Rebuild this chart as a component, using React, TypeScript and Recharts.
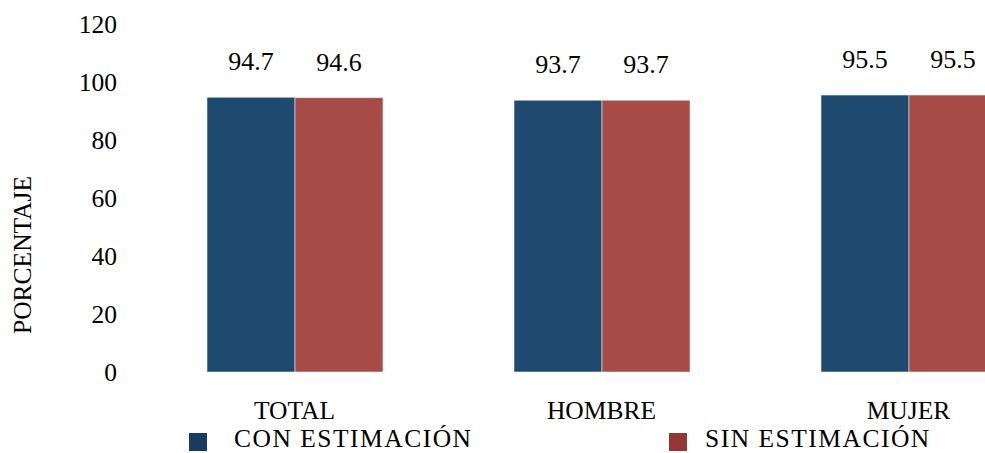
import { BarChart, Bar, XAxis, YAxis, LabelList, Legend, Label } from "recharts";

const categories = ["TOTAL", "HOMBRE", "MUJER"];
const conEstimacion = [94.7, 93.7, 95.5];
const sinEstimacion = [94.6, 93.7, 95.5];
const yTicks = [0, 20, 40, 60, 80, 100, 120];
const seriesNames = ["CON ESTIMACIÓN", "SIN ESTIMACIÓN"];

const FONT = "'Liberation Serif', 'Times New Roman', serif";
const txt = { fontFamily: FONT, fontSize: 25.5, fill: "#000" };

const data = categories.map((name, i) => ({
  name,
  con: conEstimacion[i],
  sin: sinEstimacion[i],
}));

const legendColors = ["#1b3a60", "#943634"];
const legendPos = [
  { box: 189, text: 234 },
  { box: 669, text: 705 },
];

function YTick(props: any) {
  const { y, payload } = props;
  return (
    <text x={117} y={y} dy={9} textAnchor="end" style={txt}>
      {payload.value}
    </text>
  );
}

function XTick(props: any) {
  const { x, payload } = props;
  return (
    <text x={x} y={419} textAnchor="middle" style={txt}>
      {payload.value}
    </text>
  );
}

function ValueLabel(props: any) {
  const { x, y, width, value } = props;
  return (
    <text x={x + width / 2} y={y - 27} textAnchor="middle" style={{ ...txt, fontSize: 26 }}>
      {value}
    </text>
  );
}

function LegendContent() {
  return (
    <div style={{ position: "relative", width: 985, height: 453 }}>
      {seriesNames.map((s, i) => (
        <div key={s}>
          <span
            style={{
              position: "absolute",
              left: legendPos[i].box,
              top: 433,
              width: 18,
              height: 18,
              background: legendColors[i],
            }}
          />
          <span
            style={{
              position: "absolute",
              left: legendPos[i].text,
              top: 428.8,
              fontSize: 25.5,
              lineHeight: "20px",
              letterSpacing: 1.5,
              fontFamily: FONT,
              color: "#000",
              whiteSpace: "nowrap",
            }}
          >
            {s}
          </span>
        </div>
      ))}
    </div>
  );
}

export default function App() {
  return (
    <div
      style={{
        position: "fixed",
        left: 0,
        top: 0,
        width: 985,
        height: 453,
        overflow: "hidden",
        background: "#fff",
      }}
    >
      <BarChart
        width={1082}
        height={453}
        data={data}
        margin={{ top: 24, right: 20, bottom: 0, left: 0 }}
        barCategoryGap={66}
        barGap={0}
        style={{ fontFamily: FONT }}
      >
        <YAxis
          width={141}
          domain={[0, 120]}
          ticks={yTicks}
          axisLine={false}
          tickLine={false}
          tick={<YTick />}
        >
          <Label
            content={() => (
              <text
                x={31}
                y={255}
                transform="rotate(-90, 31, 255)"
                textAnchor="middle"
                style={txt}
              >
                PORCENTAJE
              </text>
            )}
          />
        </YAxis>
        <XAxis
          dataKey="name"
          height={81}
          axisLine={false}
          tickLine={false}
          tick={<XTick />}
        />
        <Legend
          verticalAlign="middle"
          layout="horizontal"
          wrapperStyle={{ top: 0, left: 0 }}
          content={<LegendContent />}
        />
        <Bar
          dataKey="con"
          name={seriesNames[0]}
          fill="#1f4a70"
          stroke="#e6e9ee"
          strokeWidth={0.6}
          isAnimationActive={false}
        >
          <LabelList dataKey="con" content={<ValueLabel />} />
        </Bar>
        <Bar
          dataKey="sin"
          name={seriesNames[1]}
          fill="#a64b45"
          stroke="#eee6e6"
          strokeWidth={0.6}
          isAnimationActive={false}
        >
          <LabelList dataKey="sin" content={<ValueLabel />} />
        </Bar>
      </BarChart>
    </div>
  );
}
